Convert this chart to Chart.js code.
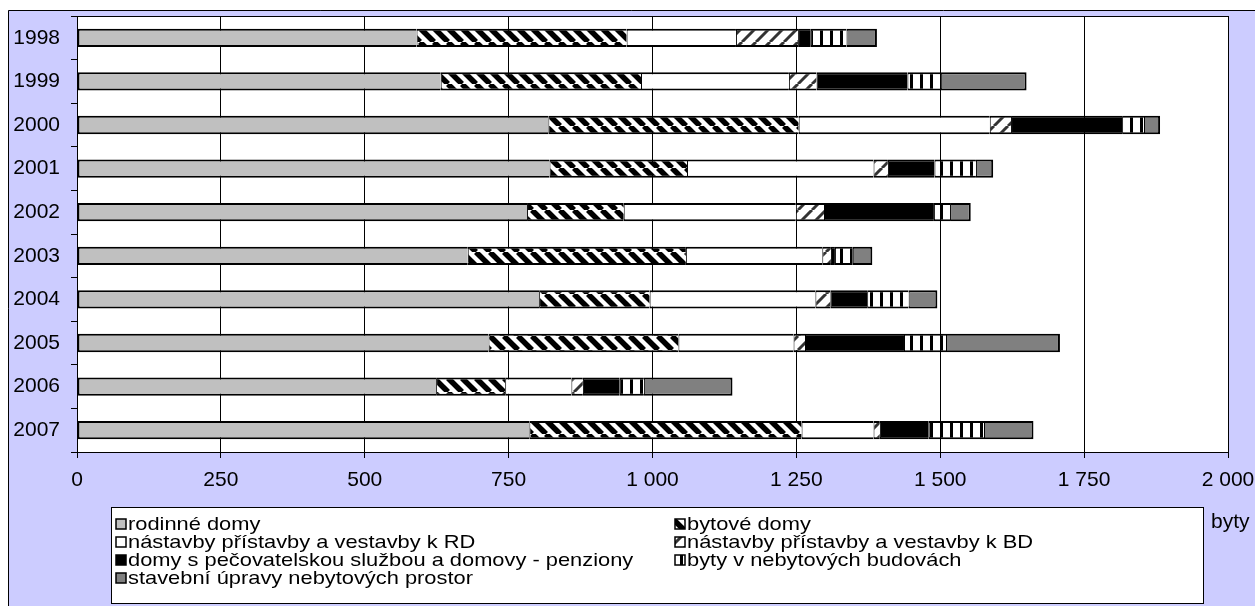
<!DOCTYPE html>
<html>
<head>
<meta charset="utf-8">
<script src="https://cdn.jsdelivr.net/npm/chart.js@4"></script>
<style>
  body { margin: 0; background: #fff; }
</style>
</head>
<body>
<canvas id="graf" width="1255" height="606"></canvas>
<script>
const roky = ['1998', '1999', '2000', '2001', '2002', '2003', '2004', '2005', '2006', '2007'];
const rodinneDomy = [590, 632, 819, 821, 782, 679, 803, 715, 624, 786];
const bytoveDomy = [365, 348, 435, 239, 168, 379, 192, 330, 120, 473];
const nastavbyRD = [190, 257, 332, 324, 299, 237, 288, 200, 115, 125];
const nastavbyBD = [108, 48, 37, 25, 49, 15, 26, 20, 20, 11];
const pecovatelske = [22, 158, 193, 81, 191, 7, 64, 172, 64, 85];
const nebytoveBudovy = [62, 58, 38, 72, 28, 31, 72, 73, 42, 96];
const upravyProstor = [53, 149, 28, 30, 36, 34, 50, 198, 154, 86];
const osaX = [0, 250, 500, 750, 1000, 1250, 1500, 1750, 2000];

// vzory vyplne
function vzor(w, h, kresli) {
  const c = document.createElement('canvas');
  c.width = w; c.height = h;
  const g = c.getContext('2d');
  g.fillStyle = '#fff';
  g.fillRect(0, 0, w, h);
  kresli(g, w, h);
  return g.createPattern(c, 'repeat');
}

const sikmeDolu = vzor(14, 14, (g, s) => {
  g.strokeStyle = '#000';
  g.lineWidth = 5.5;
  for (let k = -1; k <= 1; k++) {
    g.beginPath();
    g.moveTo(k * s, 0);
    g.lineTo(k * s + s, s);
    g.stroke();
  }
});

const sikmeNahoru = vzor(14, 14, (g, s) => {
  g.strokeStyle = '#333';
  g.lineWidth = 3;
  for (let k = -1; k <= 1; k++) {
    g.beginPath();
    g.moveTo(k * s, s);
    g.lineTo(k * s + s, 0);
    g.stroke();
  }
});

const svisle = vzor(10, 10, (g, w, h) => {
  g.fillStyle = '#000';
  g.fillRect(0, 0, 3, h);
});

const serie = [
  ['rodinné domy', rodinneDomy, '#C0C0C0'],
  ['bytové domy', bytoveDomy, sikmeDolu],
  ['nástavby přístavby a vestavby k RD', nastavbyRD, '#FFFFFF'],
  ['nástavby přístavby a vestavby k BD', nastavbyBD, sikmeNahoru],
  ['domy s pečovatelskou službou a domovy - penziony', pecovatelske, '#000000'],
  ['byty v nebytových budovách', nebytoveBudovy, svisle],
  ['stavební úpravy nebytových prostor', upravyProstor, '#808080']
];

const posledni = serie.length - 1;

const datasets = serie.map(([label, data, barva], i) => ({
  label: label,
  data: data,
  backgroundColor: barva,
  borderColor: '#000',
  borderWidth: { top: 2, bottom: 2, left: i === 0 ? 2 : 1, right: i === posledni ? 2 : 0 },
  borderSkipped: false,
  barPercentage: 0.42,
  categoryPercentage: 1
}));

function tisice(v) {
  return String(v).replace(/\B(?=(\d{3})+(?!\d))/g, ' ');
}

const pozadi = {
  id: 'pozadi',
  beforeDraw(chart) {
    const c = chart.ctx;
    const a = chart.chartArea;
    c.save();
    c.fillStyle = '#fff';
    c.fillRect(0, 0, chart.width, chart.height);
    c.fillStyle = '#CCCCFF';
    c.fillRect(8, 10, chart.width - 8, chart.height - 10);
    c.strokeStyle = '#000';
    c.lineWidth = 1;
    c.beginPath();
    c.moveTo(8.5, chart.height);
    c.lineTo(8.5, 10.5);
    c.lineTo(chart.width, 10.5);
    c.stroke();
    c.fillStyle = '#fff';
    c.fillRect(a.left, a.top, a.right - a.left, a.bottom - a.top);
    c.restore();
  },
  afterDraw(chart) {
    const c = chart.ctx;
    const a = chart.chartArea;
    c.save();
    c.strokeStyle = '#000';
    c.lineWidth = 1;
    c.strokeRect(a.left + 0.5, a.top + 0.5, a.right - a.left, a.bottom - a.top);

    // legenda
    const lx = 111, ly = 507, lw = 1092, lh = 96;
    c.fillStyle = '#fff';
    c.fillRect(lx, ly, lw, lh);
    c.strokeRect(lx + 0.5, ly + 0.5, lw, lh);
    c.font = '19px "Liberation Sans", Arial, sans-serif';
    c.textBaseline = 'middle';
    const sloupce = [116, 675];
    chart.data.datasets.forEach((ds, i) => {
      const x = sloupce[i % 2];
      const y = 524 + Math.floor(i / 2) * 18;
      c.fillStyle = ds.backgroundColor;
      c.fillRect(x, y - 5, 10, 10);
      c.strokeStyle = '#000';
      c.lineWidth = 1.5;
      c.strokeRect(x, y - 5, 10, 10);
      c.fillStyle = '#000';
      // text v legende je v originale roztazeny do sirky
      c.save();
      c.translate(x + 12, y + 1);
      c.scale(1.15, 1);
      c.fillText(ds.label, 0, 0);
      c.restore();
    });

    c.font = '21px "Liberation Sans", Arial, sans-serif';
    c.fillText('byty', 1211, 522);
    c.restore();
  }
};

Chart.defaults.font.family = '"Liberation Sans", Arial, sans-serif';
Chart.defaults.color = '#000';

new Chart(document.getElementById('graf'), {
  type: 'bar',
  data: { labels: roky, datasets: datasets },
  options: {
    indexAxis: 'y',
    responsive: false,
    animation: false,
    devicePixelRatio: 1,
    layout: { padding: { left: 0, top: 16, right: 27, bottom: 0 } },
    plugins: { legend: { display: false }, tooltip: { enabled: false } },
    scales: {
      x: {
        stacked: true,
        min: 0,
        max: 2000,
        afterBuildTicks: (s) => { s.ticks = osaX.map(v => ({ value: v })); },
        ticks: { font: { size: 21 }, padding: 10, callback: (v) => tisice(v), maxRotation: 0 },
        grid: { color: '#000', lineWidth: 1, tickLength: 6 },
        border: { color: '#000', width: 1 },
        afterFit: (s) => { s.height = 154; s.paddingLeft = 0; s.paddingRight = 0; }
      },
      y: {
        stacked: true,
        ticks: { font: { size: 21 }, padding: 11 },
        grid: { drawOnChartArea: false, color: '#000', tickLength: 6 },
        border: { color: '#000', width: 1 },
        afterFit: (s) => { s.width = 77; s.paddingTop = 0; s.paddingBottom = 0; }
      }
    }
  },
  plugins: [pozadi]
});
</script>
</body>
</html>
